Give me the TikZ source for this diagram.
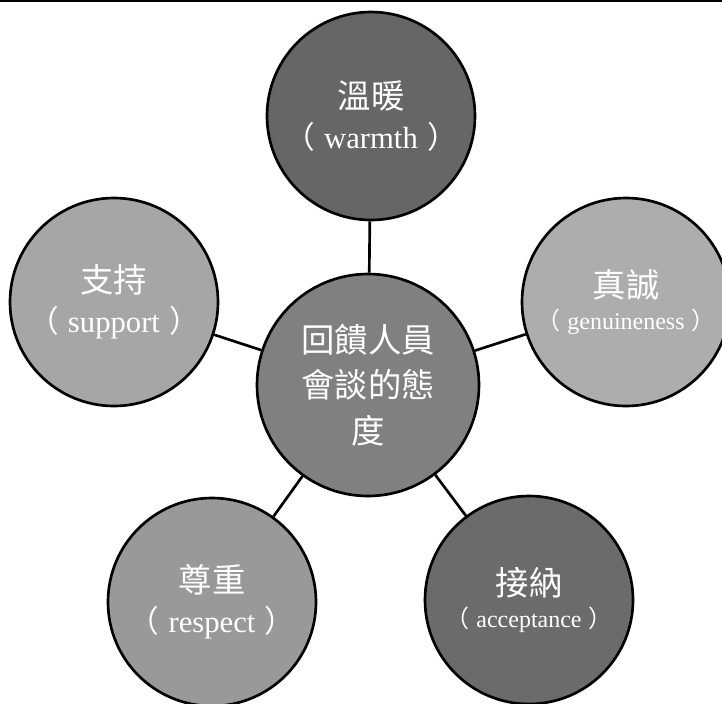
\documentclass[tikz,border=0pt]{standalone}
\usepackage{fontspec}
\setmainfont{Liberation Serif}
\newfontfamily\cjk{Noto Sans CJK TC}
\definecolor{greyWarm}{RGB}{102,102,102}
\definecolor{greyHub}{RGB}{128,128,128}
\definecolor{greyGenu}{RGB}{173,173,173}
\definecolor{greySupp}{RGB}{166,166,166}
\definecolor{greyResp}{RGB}{153,153,153}
\definecolor{greyAcce}{RGB}{107,107,107}
\tikzset{
  petal/.style={circle, draw=black, line width=2pt, minimum size=156pt, inner sep=0pt,
    text=white, align=center, font=\fontsize{23}{30}\selectfont},
  small petal/.style={petal, font=\fontsize{18}{24}\selectfont},
  hub/.style={petal, minimum size=166.5pt, font=\cjk\fontsize{25}{34}\selectfont},
  spoke/.style={line width=2pt}
}
\newcommand{\zh}[1]{{\cjk\fontsize{25}{30}\selectfont #1}}
\newcommand{\lp}{{\cjk （}\hspace{0.3em}}
\newcommand{\rp}{\hspace{0.3em}{\cjk ）}}
\begin{document}
\begin{tikzpicture}[x=0.75pt,y=0.75pt,yscale=-1,xscale=1]
\useasboundingbox (0,0) rectangle (722,704);

%Straight Lines: top rule
\draw [line width=1.5pt] (0,1) -- (722,1) ;

%Shape: Circle, centre
\node [hub, fill=greyHub] (attitude) at (368,385) {回饋人員\\會談的態\\度};

%Shape: Circle, outer ring
\node [petal, fill=greyWarm] (warmth) at (371,116) {\zh{溫暖}\\\lp warmth\rp};
\node [small petal, fill=greyGenu] (genuine) at (626,302) {\zh{真誠}\\\lp genuineness\rp};
\node [small petal, fill=greyAcce] (accept) at (529,600) {\zh{接納}\\\lp acceptance\rp};
\node [petal, fill=greyResp] (respect) at (212,602) {\zh{尊重}\\\lp respect\rp};
\node [petal, fill=greySupp] (support) at (114,302) {\zh{支持}\\\lp support\rp};

%Straight Lines
\foreach \p in {warmth,genuine,accept,respect,support}
  \draw [spoke] (attitude) -- (\p) ;

\end{tikzpicture}
\end{document}
